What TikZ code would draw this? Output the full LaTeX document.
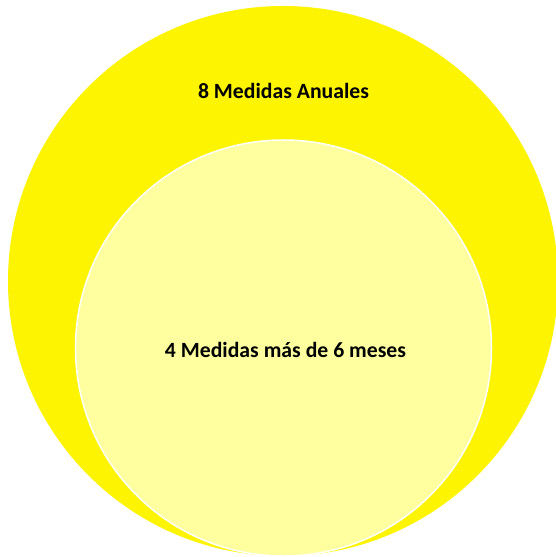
\documentclass[tikz,border=0pt]{standalone}
\usepackage{fontspec}
\setmainfont{Carlito}
\definecolor{bigyellow}{RGB}{252,244,0}
\definecolor{paleyellow}{RGB}{255,255,160}
\begin{document}
\begin{tikzpicture}[x=1bp,y=-1bp,
  outer/.style={circle,fill=bigyellow,draw=none,minimum size=550bp,inner sep=0pt},
  inner/.style={circle,fill=paleyellow,draw=white,line width=1.5bp,minimum size=416bp,inner sep=0pt},
  lbl/.style={font=\bfseries\fontsize{21.8}{26}\selectfont,text=black}]
\useasboundingbox (0,0) rectangle (556,557);
\node[outer] (big) at (283,281) {};
\node[inner] (small) at (283.5,348) {};
\node[lbl] (t1) at (283.5,91) {8 Medidas Anuales};
\node[lbl] (t2) at (285.5,350) {4 Medidas más de 6 meses};
\end{tikzpicture}
\end{document}
